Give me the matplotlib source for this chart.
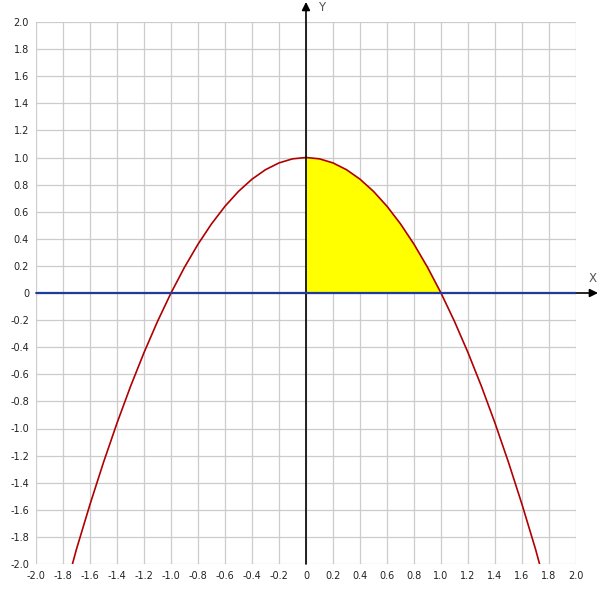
import matplotlib
matplotlib.use("Agg")
import matplotlib.pyplot as plt
import numpy as np

# Curve points
curve_x = [-1.73, -1.7, -1.6, -1.5, -1.4, -1.3, -1.2, -1.1, -1.0, -0.9, -0.8, -0.7,
           -0.6, -0.5, -0.4, -0.3, -0.2, -0.1, 0.0, 0.1, 0.2, 0.3, 0.4, 0.5, 0.6,
           0.7, 0.8, 0.9, 1.0, 1.1, 1.2, 1.3, 1.4, 1.5, 1.6, 1.7, 1.73]
curve_y = [-2.0, -1.89, -1.56, -1.25, -0.96, -0.69, -0.44, -0.21, 0.0, 0.19, 0.36, 0.51,
           0.64, 0.75, 0.84, 0.91, 0.96, 0.99, 1.0, 0.99, 0.96, 0.91, 0.84, 0.75, 0.64,
           0.51, 0.36, 0.19, 0.0, -0.21, -0.44, -0.69, -0.96, -1.25, -1.56, -1.89, -2.0]

# Shaded area bounds
fill_start = 0.0
fill_end = 1.0

# Ticks
tick_values = [-2.0, -1.8, -1.6, -1.4, -1.2, -1.0, -0.8, -0.6, -0.4, -0.2, 0.0,
               0.2, 0.4, 0.6, 0.8, 1.0, 1.2, 1.4, 1.6, 1.8, 2.0]
tick_labels = ["-2.0", "-1.8", "-1.6", "-1.4", "-1.2", "-1.0", "-0.8", "-0.6", "-0.4",
               "-0.2", "0", "0.2", "0.4", "0.6", "0.8", "1.0", "1.2", "1.4", "1.6",
               "1.8", "2.0"]

fig = plt.figure(figsize=(6.01, 5.91), dpi=100)
ax = fig.add_axes([36 / 601, 27 / 591, 540 / 601, 542 / 591])

ax.set_xlim(-2, 2)
ax.set_ylim(-2, 2)

# Grid
for v in tick_values:
    ax.axvline(v, color="#cccccc", lw=0.9, zorder=0)
    ax.axhline(v, color="#cccccc", lw=0.9, zorder=0)

xs = np.array(curve_x)
ys = np.array(curve_y)
mask = (xs >= fill_start) & (xs <= fill_end)
ax.fill_between(xs[mask], ys[mask], 0, color="#ffff00", lw=0, zorder=1)

ax.plot(curve_x, curve_y, color="#b00000", lw=1.2, zorder=3)

# Axes arrows
ax.annotate("", xy=(0, 2.148), xytext=(0, -2), xycoords="data",
            arrowprops=dict(arrowstyle="-|>", color="black", lw=1.2,
                            mutation_scale=12, shrinkA=0, shrinkB=0),
            annotation_clip=False, zorder=4)
ax.annotate("", xy=(2.163, 0), xytext=(-2, 0), xycoords="data",
            arrowprops=dict(arrowstyle="-|>", color="black", lw=1.2,
                            mutation_scale=12, shrinkA=0, shrinkB=0),
            annotation_clip=False, zorder=4)
ax.plot([-2, 2], [0, 0], color="#1f3c99", lw=1.6, zorder=5)

ax.text(0.09, 2.11, "Y", fontsize=8.5, color="#555555", ha="left", va="center")
ax.text(2.12, 0.11, "X", fontsize=8.5, color="#555555", ha="center", va="center")

ax.set_xticks(tick_values)
ax.set_xticklabels(tick_labels)
ax.set_yticks(tick_values)
ax.set_yticklabels(tick_labels)
ax.tick_params(length=0, labelsize=7, pad=5, colors="#222222")

for s in ax.spines.values():
    s.set_visible(False)

fig.savefig("out.png", dpi=100)
